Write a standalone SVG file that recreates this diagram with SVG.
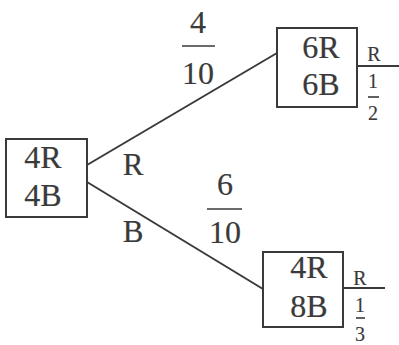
<svg xmlns="http://www.w3.org/2000/svg" width="399" height="345" viewBox="0 0 399 345">
  <style>
    .box { fill: #fff; stroke: #3a3a3a; stroke-width: 2; }
    .edge { stroke: #3a3a3a; stroke-width: 2; fill: none; }
    .bar { stroke: #3a3a3a; stroke-width: 1.6; }
  </style>
  <rect width="399" height="345" fill="#fff"/>

  <g id="connectors">
    <line class="edge" x1="87" y1="165" x2="277" y2="53"/>
    <line class="edge" x1="87" y1="182" x2="263" y2="289"/>
    <line class="edge" x1="357" y1="66" x2="399" y2="66"/>
    <line class="edge" x1="343" y1="288" x2="385" y2="288"/>
  </g>

  <g font-family="Liberation Serif, Times New Roman, serif" font-size="32" fill="#3a3a3a" stroke="#3a3a3a" stroke-width="0.2" text-anchor="middle">
    <g id="start">
      <rect class="box" x="6" y="139" width="81" height="78"/>
      <text x="43" y="168">4R</text>
      <text x="43" y="206">4B</text>
    </g>

    <g id="after-red">
      <rect class="box" x="277" y="28" width="80" height="79"/>
      <text x="321" y="58">6R</text>
      <text x="321" y="95">6B</text>
    </g>

    <g id="after-blue">
      <rect class="box" x="263" y="252" width="80" height="75"/>
      <text x="309" y="278">4R</text>
      <text x="309" y="317">8B</text>
    </g>

    <g id="branch-labels">
      <text x="133" y="175" font-size="31">R</text>
      <text x="133" y="242" font-size="31">B</text>

      <text x="198" y="33">4</text>
      <line class="bar" x1="182" y1="46" x2="215" y2="46"/>
      <text x="198" y="84">10</text>

      <text x="225" y="195">6</text>
      <line class="bar" x1="207" y1="209" x2="242" y2="209"/>
      <text x="225" y="243">10</text>
    </g>

    <g id="draw-probabilities" font-size="20" stroke-width="0.15">
      <text x="374" y="61">R</text>
      <text x="373" y="88">1</text>
      <line class="bar" x1="368" y1="97" x2="379" y2="97"/>
      <text x="373" y="120">2</text>

      <text x="360" y="285">R</text>
      <text x="360" y="312">1</text>
      <line class="bar" x1="356" y1="318" x2="365" y2="318"/>
      <text x="360" y="341">3</text>
    </g>
  </g>
</svg>
